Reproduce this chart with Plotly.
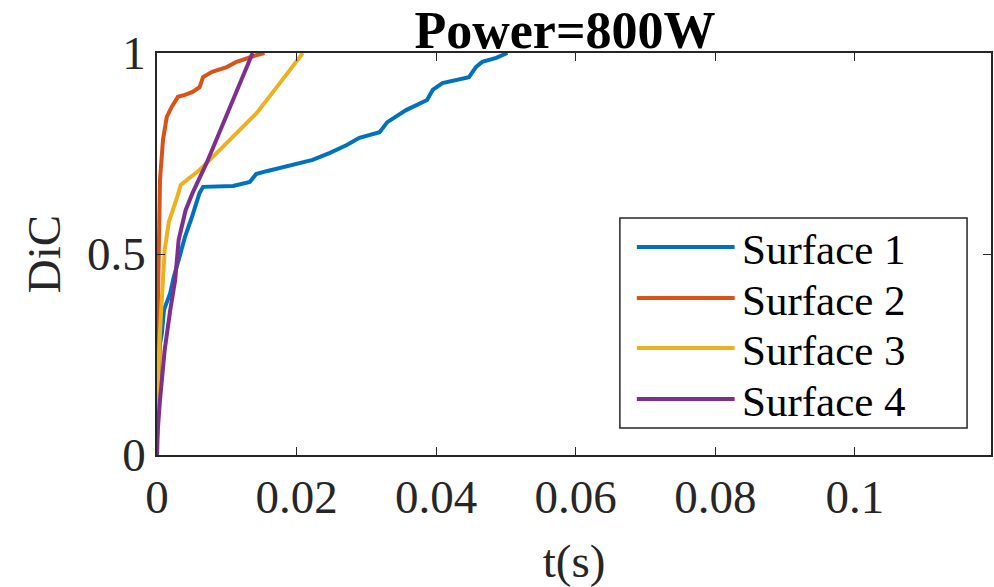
import plotly.graph_objects as go

# ---- data ----
s1_t = [0, 0.00014, 0.0004, 0.0007, 0.001, 0.0019, 0.0024, 0.0031, 0.004, 0.005, 0.0057, 0.0061,
        0.0066, 0.0109, 0.0133, 0.0142, 0.0157, 0.0194, 0.0223, 0.0247, 0.0272, 0.029, 0.0319,
        0.033, 0.0357, 0.0387, 0.0395, 0.0409, 0.0447, 0.0457, 0.0466, 0.0486, 0.0502]
s1_d = [0, 0.137, 0.274, 0.303, 0.361, 0.403, 0.443, 0.485, 0.542, 0.592, 0.627, 0.652,
        0.667, 0.669, 0.679, 0.699, 0.706, 0.721, 0.734, 0.751, 0.771, 0.789, 0.803,
        0.828, 0.858, 0.883, 0.908, 0.925, 0.940, 0.965, 0.978, 0.988, 1.0]

s2_t = [0, 0.00005, 0.0001, 0.00014, 0.0003, 0.00043, 0.00086, 0.0014, 0.0021, 0.003, 0.004, 0.0051,
        0.0061, 0.0066, 0.0079, 0.01, 0.0114, 0.0129, 0.0143, 0.0154]
s2_d = [0, 0.05, 0.137, 0.386, 0.585, 0.684, 0.784, 0.841, 0.866, 0.891, 0.896, 0.903,
        0.915, 0.940, 0.953, 0.965, 0.978, 0.988, 0.995, 1.0]

s3_t = [0, 0.00014, 0.0003, 0.0006, 0.0009, 0.0011, 0.0017, 0.0023, 0.0029, 0.0034, 0.0047,
        0.0061, 0.0071, 0.0104, 0.0143, 0.0176, 0.0209]
s3_d = [0, 0.137, 0.261, 0.361, 0.435, 0.510, 0.580, 0.609, 0.642, 0.672, 0.689,
        0.709, 0.726, 0.784, 0.851, 0.925, 1.0]

s4_t = [0, 0, 0.00043, 0.0011, 0.0019, 0.0026, 0.0031, 0.0036, 0.0041, 0.0051, 0.0061, 0.0071, 0.0137]
s4_d = [0, 0.037, 0.137, 0.261, 0.361, 0.435, 0.535, 0.572, 0.609, 0.652, 0.689, 0.726, 1.0]

names = ["Surface 1", "Surface 2", "Surface 3", "Surface 4"]
colors = ["#0072BD", "#D95319", "#EDB120", "#7E2F8E"]

x_ticks = [0, 0.02, 0.04, 0.06, 0.08, 0.1]
x_ticklabels = ["0", "0.02", "0.04", "0.06", "0.08", "0.1"]
y_ticks = [0, 0.5, 1]
y_ticklabels = ["0", "0.5", "1"]

FONT = "Liberation Serif, Times New Roman, serif"
AX = "#262626"

# plot area geometry in pixels
L, R, T, B = 157, 993, 53, 455
W, H = R - L, B - T


def px(x):
    return (x - L) / W


def py(y):
    return (B - y) / H


fig = go.Figure()
for t, d, n, c in zip([s1_t, s2_t, s3_t, s4_t], [s1_d, s2_d, s3_d, s4_d], names, colors):
    fig.add_trace(go.Scatter(x=t, y=d, mode="lines", name=n,
                             line=dict(color=c, width=4)))

# MATLAB-style legend box (long line samples, tight rows)
shapes = [dict(type="rect", xref="paper", yref="paper",
               x0=px(621), x1=px(969), y0=py(428), y1=py(218),
               line=dict(color=AX, width=1.5), fillcolor="white", layer="above")]
annotations = []
row_y = [247, 298, 348, 399]
for n, c, ry in zip(names, colors, row_y):
    shapes.append(dict(type="line", xref="paper", yref="paper",
                       x0=px(638), x1=px(736), y0=py(ry), y1=py(ry),
                       line=dict(color=c, width=4), layer="above"))
    annotations.append(dict(text=n, xref="paper", yref="paper", x=px(741), y=py(ry + 2),
                            xanchor="left", yanchor="middle", showarrow=False,
                            font=dict(family=FONT, size=43, color="black")))

fig.update_layout(
    width=994, height=587,
    margin=dict(l=L, r=994 - R, t=T, b=587 - B),
    paper_bgcolor="white", plot_bgcolor="white",
    font=dict(family=FONT, color=AX),
    title=dict(text="<b>Power=800W</b>", font=dict(family=FONT, size=52, color="black"),
               x=565 / 994, xanchor="center", yref="container", y=1 - 30 / 587, yanchor="middle"),
    showlegend=False,
    shapes=shapes,
    annotations=annotations,
)
fig.update_xaxes(range=[0, 0.1195], tickvals=x_ticks, ticktext=x_ticklabels,
                 showgrid=False, zeroline=False, showline=True, linecolor=AX, linewidth=1.5,
                 mirror="ticks", ticks="inside", ticklen=8, tickcolor=AX,
                 tickfont=dict(family=FONT, size=47, color=AX),
                 title=dict(text="t(s)", font=dict(family=FONT, size=47, color=AX), standoff=22))
fig.update_yaxes(range=[0, 1], tickvals=y_ticks, ticktext=y_ticklabels,
                 showgrid=False, zeroline=False, showline=True, linecolor=AX, linewidth=1.5,
                 mirror="ticks", ticks="inside", ticklen=8, tickcolor=AX,
                 tickfont=dict(family=FONT, size=47, color=AX),
                 title=dict(text="DiC", font=dict(family=FONT, size=47, color=AX), standoff=12))

fig.write_html("out.html")
